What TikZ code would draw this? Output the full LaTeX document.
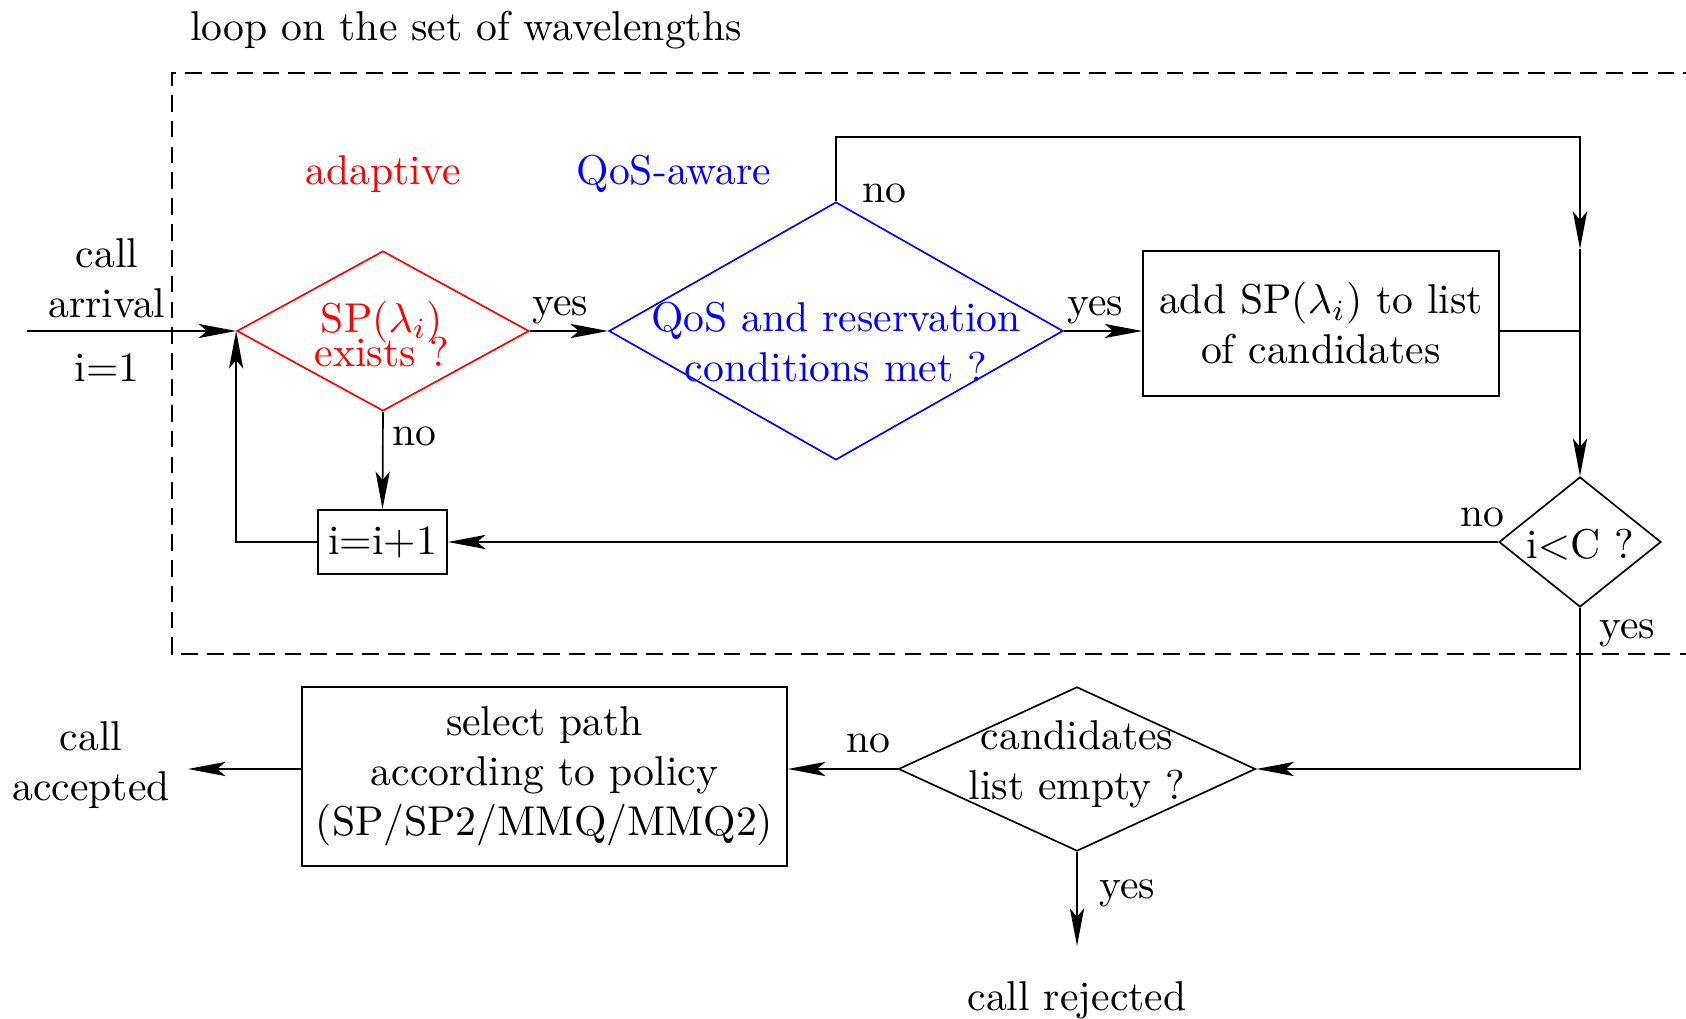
\documentclass[tikz,border=0pt]{standalone}
\usetikzlibrary{shapes.geometric,arrows.meta}
\begin{document}
\begin{tikzpicture}[x=0.24pt,y=-0.24pt,
  arr/.style={-{Stealth[length=9pt,width=3.4pt,inset=2pt]}},
  decision/.style={draw,diamond,inner sep=0pt},
  action/.style={draw,rectangle,align=center,inner sep=1pt},
  txt/.style={align=center,inner sep=0pt}]
  \useasboundingbox (0,0) rectangle (1686,1019);

  \node[txt] (title) at (466,30) {loop on the set of wavelengths};
  \draw[dash pattern=on 4pt off 2.2pt] (1700,73) -| (172,654) -- (1700,654);

  \node[txt,red] (adapt) at (383,174) {adaptive};
  \node[txt,blue] (qosaw) at (674,174) {QoS-aware};

  \node[decision,red,minimum width=70.1pt,minimum height=38.4pt] (exists) at (383,331) {};
  \node[txt,red] (existsT) at (382,334) {SP($\lambda_i$)\\[-4pt]exists ?};
  \node[decision,blue,minimum width=109pt,minimum height=61.9pt] (qos) at (836,331) {};
  \node[txt,blue] (qosT) at (836,342) {QoS and reservation\\conditions met ?};
  \node[action,minimum width=85.4pt,minimum height=34.8pt] (cand) at (1321,323.5) {add SP($\lambda_i$) to list\\of candidates};
  \node[decision,minimum width=38.9pt,minimum height=31.2pt] (lt) at (1580,542) {};
  \node[txt] (ltT) at (1580,545) {i$<$C ?};
  \node[action,minimum width=31pt,minimum height=15.4pt] (inc) at (382.5,542) {i=i+1};
  \node[decision,minimum width=85.7pt,minimum height=39.4pt] (empty) at (1077,769) {};
  \node[txt] (emptyT) at (1077,764) {candidates\\list empty ?};
  \node[action,minimum width=116.4pt,minimum height=43pt] (sel) at (544.5,776.5) {select path\\according to policy\\(SP/SP2/MMQ/MMQ2)};

  \node[txt] (arrival) at (107,278) {call\\arrival};
  \node[txt] (init) at (107,368) {i=1};
  \node[txt] (accepted) at (91,765) {call\\accepted};
  \node[txt] (rejected) at (1077,1000) {call rejected};

  \foreach \x/\y/\t [count=\k] in {560/310/yes,1095/310/yes,884/193/no,414/436/no,1482/517/no,1627/633/yes,868/743/no,1127/893/yes}
    \node[txt] (lab\k) at (\x,\y) {\t};

  \coordinate (start) at (27,331);
  \coordinate (topr) at (1580,137);
  \coordinate (midr) at (1580,249);
  \coordinate (acc) at (188,769);
  \coordinate (rej) at (1077,946);

  \draw[arr] (start) -- (exists.west);
  \draw[arr] (exists.east) -- (qos.west);
  \draw[arr] (qos.east) -- (qos.east -| cand.west);
  \draw[arr] (qos.north) |- (topr) -- (midr);
  \draw[arr] (midr) -- (lt.north);
  \draw (qos.east -| cand.east) -- (qos.east -| lt.north);
  \draw[arr] (lt.west) -- (inc.east);
  \draw[arr] (exists.south) -- (inc.north);
  \draw[arr] (inc.west) -| (exists.west);
  \draw[arr] (lt.south) |- (empty.east);
  \draw[arr] (empty.west) -- (empty.west -| sel.east);
  \draw[arr] (empty.west -| sel.west) -- (acc);
  \draw[arr] (empty.south) -- (rej);
\end{tikzpicture}
\end{document}
